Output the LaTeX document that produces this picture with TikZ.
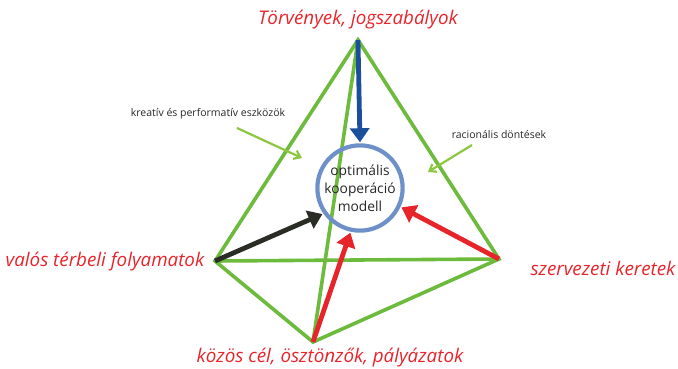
\documentclass[tikz,border=0pt]{standalone}
\usepackage{fontspec}
\setmainfont{Open Sans}
\usetikzlibrary{arrows.meta}
\definecolor{lgreen}{HTML}{6CBB3C}
\definecolor{agreen}{HTML}{8DC63F}
\definecolor{lred}{HTML}{E8242B}
\definecolor{dblue}{HTML}{1B4F9C}
\definecolor{cblue}{HTML}{6E90C8}
\definecolor{dark}{HTML}{2A2D26}
\tikzset{
  edge/.style={draw=lgreen, line width=3.6pt, line cap=round},
  bigarrow/.style={line width=4.8pt, shorten >=1pt, -{Triangle[length=14pt,width=19pt]}},
  smallarrow/.style={draw=agreen, line width=2.2pt, -{Straight Barb[length=6pt,width=9pt]}},
  rlabel/.style={text=lred, font=\fontsize{18.8}{22}\selectfont\itshape, inner sep=0pt},
  slabel/.style={text=black!85, font=\fontsize{10.5}{12}\selectfont, inner sep=0pt},
  pt/.style={inner sep=0pt, minimum size=0pt}
}
\begin{document}
\begin{tikzpicture}[x=1pt,y=-1pt]
\useasboundingbox (0,0) rectangle (678,369);
\coordinate (T) at (358,40);
\coordinate (L) at (215,261);
\coordinate (R) at (499,259);
\coordinate (B) at (313,342);
\draw[edge] (T) -- (L) -- (B) -- (R) -- cycle;
\draw[edge] (L) -- (R);
\draw[edge] (T) -- (B);
\node[draw=cblue, line width=4.2pt, circle, minimum size=73pt, inner sep=0pt,
      align=center, font=\fontsize{13.8}{18}\selectfont, text=black!85] (C) at (360,188)
      {optimális\\kooperáció\\modell};
\draw[bigarrow, dblue] (T) -- (C.north);
\draw[bigarrow, dark] (L) -- (C.215);
\draw[bigarrow, lred] (B) -- (C.258);
\draw[bigarrow, lred] (R) -- (C.-25);
\node[rlabel] (tl) at (358,20) {Törvények, jogszabályok};
\node[rlabel] (ll) at (105,262) {valós térbeli folyamatok};
\node[rlabel] (rl) at (603,268) {szervezeti keretek};
\node[rlabel] (bl) at (330,358) {közös cél, ösztönzők, pályázatok};
\node[slabel] (kl) at (208,114) {kreatív és performatív eszközök};
\node[slabel] (dl) at (499,135) {racionális döntések};
\coordinate (ka) at (237,128);
\coordinate (kb) at (302,158);
\coordinate (da) at (472,145);
\coordinate (db) at (428,172);
\draw[smallarrow] (ka) -- (kb);
\draw[smallarrow] (da) -- (db);
\end{tikzpicture}
\end{document}
